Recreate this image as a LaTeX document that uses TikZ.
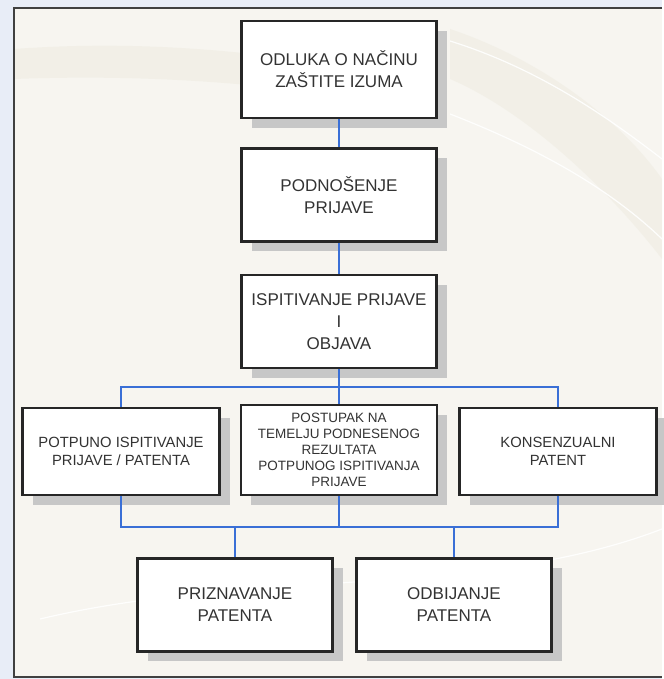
\documentclass[tikz,border=0pt]{standalone}
\usepackage{fontspec}
\setmainfont{Liberation Sans}
\usetikzlibrary{positioning,shadows}
\definecolor{linkblue}{HTML}{3A6FD6}
\definecolor{framebg}{HTML}{F7F5F0}
\definecolor{bandbg}{HTML}{EFECE2}
\definecolor{outerbg}{HTML}{E8EDF7}
\definecolor{boxtext}{HTML}{333333}

\begin{document}
\begin{tikzpicture}[x=1pt, y=1pt,
    stepbox/.style={rectangle, draw=black!85, line width=2.4pt, fill=white,
      text=boxtext, align=center, inner sep=2pt,
      minimum width=195pt, minimum height=93pt,
      font=\fontsize{17}{22}\selectfont,
      drop shadow={shadow xshift=10pt, shadow yshift=-10pt, fill=black!22, opacity=1}},
    rowbox/.style={stepbox, minimum width=197pt, minimum height=87pt,
      font=\fontsize{14.8}{18}\selectfont},
    midbox/.style={stepbox, minimum width=196pt, minimum height=90pt,
      font=\fontsize{13.5}{16}\selectfont},
    link/.style={draw=linkblue, line width=2pt},
    swoosh/.style={draw=white, line width=1.2pt, opacity=0.9},
  ]
  % background and frame
  \fill[outerbg] (0,0) rectangle (662,679);
  \fill[framebg] (14,2) rectangle (662,671);
  \fill[bandbg, opacity=0.6] (14,630) .. controls (150,640) and (260,625) .. (330,615)
    -- (330,585) .. controls (250,595) and (150,605) .. (14,600) -- cycle;
  \fill[bandbg, opacity=0.6] (450,650) .. controls (540,620) and (620,560) .. (662,500)
    -- (662,420) .. controls (600,500) and (520,570) .. (450,600) -- cycle;
  \draw[swoosh] (450,638) .. controls (540,610) and (610,560) .. (662,520);
  \draw[swoosh] (450,565) .. controls (540,530) and (610,490) .. (662,440);
  \draw[swoosh] (40,60) .. controls (250,110) and (480,80) .. (662,150);
  \draw[black!75, line width=2pt] (662,671) -- (14,671) -- (14,2) -- (662,2);

  % top chain
  \node[stepbox, minimum height=97pt] (OD) at (339,609.5) {ODLUKA O NAČINU\\ZAŠTITE IZUMA};
  \node[stepbox]   (PO)  [below=28pt of OD]  {PODNOŠENJE\\PRIJAVE};
  \node[stepbox]   (IS)  [below=31pt of PO]  {ISPITIVANJE PRIJAVE\\I\\OBJAVA};
  \draw[link] (OD) -- (PO);
  \draw[link] (PO) -- (IS);

  % middle row
  \node[rowbox]    (PI)  at (121,227.5)      {POTPUNO ISPITIVANJE\\PRIJAVE / PATENTA};
  \node[midbox]    (PT)  at (339,229)        {POSTUPAK NA\\TEMELJU PODNESENOG\\REZULTATA\\POTPUNOG ISPITIVANJA\\PRIJAVE};
  \node[rowbox]    (KP)  at (558,227.5)      {KONSENZUALNI\\PATENT};
  \coordinate (bus1) at (339,292);
  \draw[link] (IS) -- (bus1) -- (PT);
  \draw[link] (PI.north) |- (bus1) -| (KP.north);

  % bottom row
  \node[stepbox]   (PR)  at (235,74)         {PRIZNAVANJE\\PATENTA};
  \node[stepbox]   (OB)  at (454,74)         {ODBIJANJE\\PATENTA};
  \coordinate (bus2) at (339,152);
  \draw[link] (PT) -- (bus2);
  \draw[link] (PI.south) |- (bus2) -| (KP.south);
  \draw[link] (PR.north) -- (PR.north |- bus2);
  \draw[link] (OB.north) -- (OB.north |- bus2);

  \useasboundingbox (0,0) rectangle (662,679);
\end{tikzpicture}
\end{document}
